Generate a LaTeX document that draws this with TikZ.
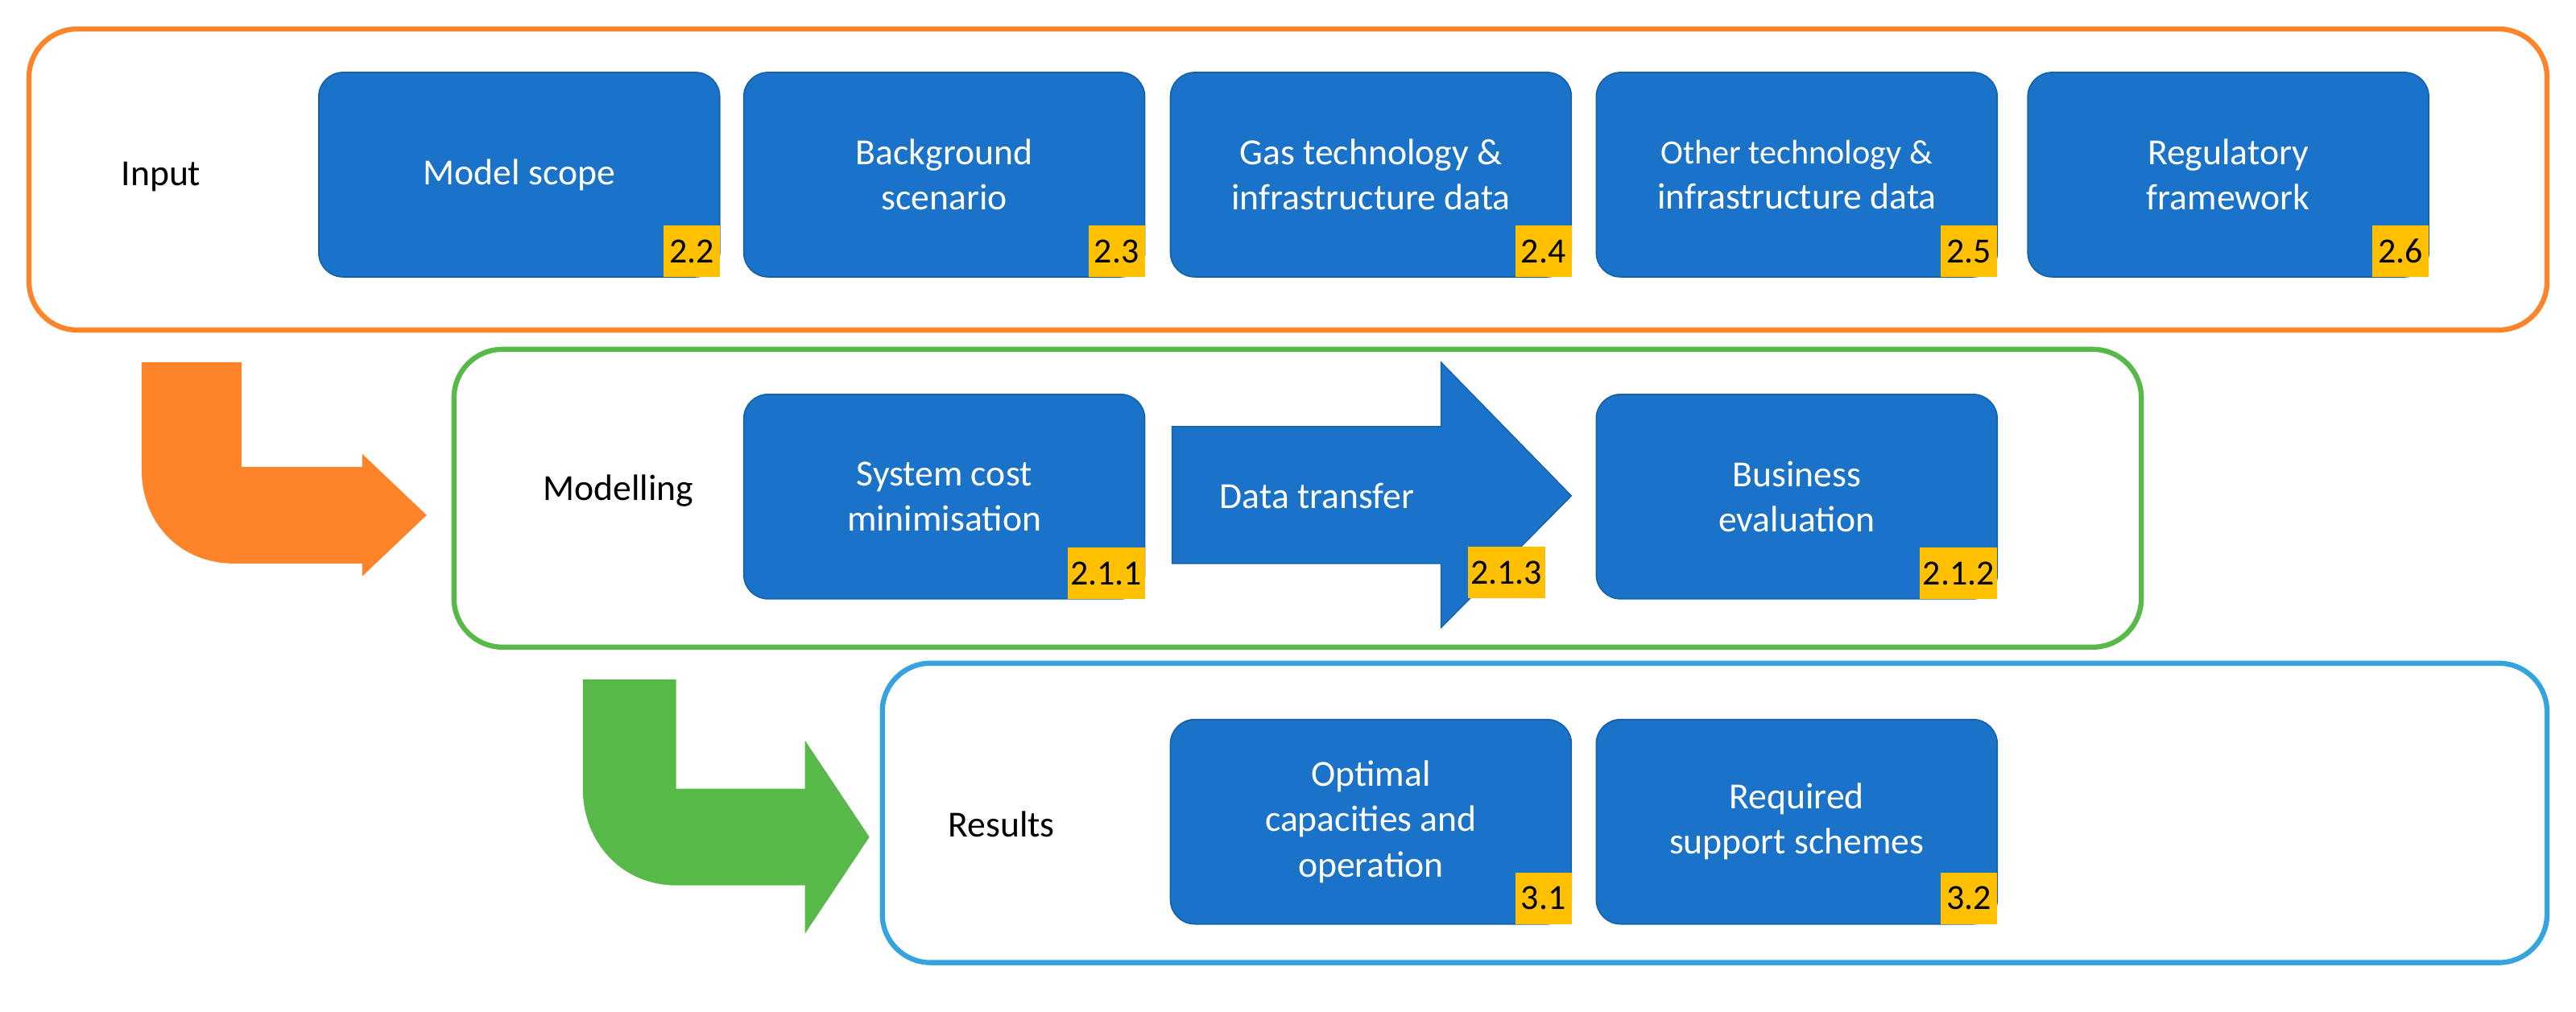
\documentclass[tikz,border=0pt]{standalone}
\usepackage{fontspec}
\setmainfont{Carlito}
\usetikzlibrary{positioning}
\definecolor{stepblue}{HTML}{1A73C8}
\definecolor{tagyellow}{HTML}{FFC000}
\definecolor{inorange}{HTML}{FF8429}
\definecolor{modgreen}{HTML}{57B947}
\definecolor{resblue}{HTML}{34A3DF}
\tikzset{
  stepbox/.style={rounded corners=0.3cm, fill=stepblue, draw=stepblue!85!black, line width=0.5pt,
    minimum width=4.98cm, minimum height=2.54cm, text=white, align=center,
    font=\fontsize{13}{16}\selectfont},
  tag/.style={fill=tagyellow, inner sep=1pt, minimum width=0.7cm, minimum height=0.64cm,
    anchor=south east, font=\fontsize{12.5}{14}\selectfont},
  frame/.style={rounded corners=0.6cm, line width=1.8pt, fill=white},
  stage/.style={font=\fontsize{13}{16}\selectfont}
}
\begin{document}
\begin{tikzpicture}[x=0.02cm, y=-0.02cm]
  \useasboundingbox (0,0) rectangle (1600,628.5);

  % input row
  \draw[frame, draw=inorange] (18,18) rectangle (1582,205);
  \node[stage] (input) at (100,110) {Input};
  \node[stepbox] (scope) at (322.5,108.5) {Model scope};
  \node[stepbox] (backgr) at (586.5,108.5) {Background\\scenario};
  \node[stepbox] (gastech) at (851.5,108.5) {Gas technology \&\\infrastructure data};
  \node[stepbox] (othertech) at (1116,108.5) {{\fontsize{12}{15}\selectfont Other technology \&}\\infrastructure data};
  \node[stepbox] (regul) at (1384,108.5) {Regulatory\\framework};
  \node[tag] at (scope.south east) {2.2};
  \node[tag] at (backgr.south east) {2.3};
  \node[tag] at (gastech.south east) {2.4};
  \node[tag] at (othertech.south east) {2.5};
  \node[tag] at (regul.south east) {2.6};

  % modelling row
  \draw[frame, draw=modgreen] (282,217) rectangle (1330,402);
  \node[stage] (model) at (384,305) {Modelling};
  \node[stepbox] (syscost) at (586.5,308.5) {System cost\\minimisation};
  \node[stepbox] (business) at (1116,308.5) {Business\\evaluation};
  \draw[fill=stepblue, draw=stepblue!85!black] (728,265) -- (895,265) -- (895,225) -- (976,308)
    -- (895,390) -- (895,350) -- (728,350) -- cycle;
  \node[text=white, font=\fontsize{13}{16}\selectfont] (transfer) at (818,308) {Data transfer};
  \coordinate (transferend) at (960,372);
  \node[tag] at (transferend) {2.1.3};
  \node[tag] at (syscost.south east) {2.1.1};
  \node[tag] at (business.south east) {2.1.2};

  % results row
  \draw[frame, draw=resblue] (548,412) rectangle (1582,598);
  \node[stage] (results) at (622,512) {Results};
  \node[stepbox] (optimal) at (851.5,510.5) {Optimal\\capacities and\\operation};
  \node[stepbox] (support) at (1116,510.5) {Required\\support schemes};
  \node[tag] at (optimal.south east) {3.1};
  \node[tag] at (support.south east) {3.2};

  % bent arrows
  \fill[inorange] (88,225) -- (88,292) .. controls (88,325) and (112,350) .. (145,350)
    -- (225,350) -- (225,358) -- (265,320) -- (225,282) -- (225,290) -- (150,290)
    -- (150,225) -- cycle;
  \fill[modgreen] (362,422) -- (362,490) .. controls (362,523) and (386,550) .. (420,550)
    -- (500,550) -- (500,580) -- (540,520) -- (500,460) -- (500,490) -- (420,490)
    -- (420,422) -- cycle;
\end{tikzpicture}
\end{document}
